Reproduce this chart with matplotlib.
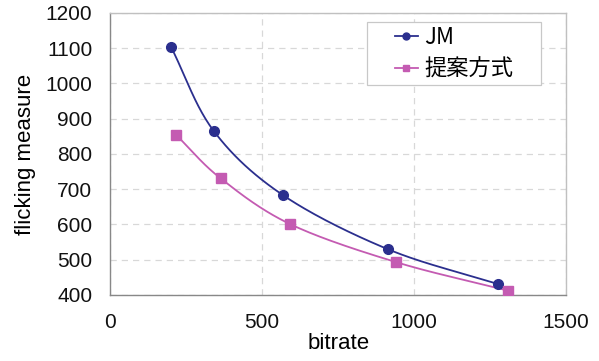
import numpy as np
import matplotlib
matplotlib.use("Agg")
import matplotlib.pyplot as plt
from matplotlib.patches import Rectangle

plt.rcParams['font.family'] = ['Liberation Sans', 'Noto Sans CJK JP', 'DejaVu Sans']

series_names = ["JM", "提案方式"]
jm_x = [200, 340, 567, 913, 1275]
jm_y = [1104, 866, 684, 530, 431]
prop_x = [218, 363, 592, 941, 1310]
prop_y = [853, 731, 601, 493, 412]
x_ticks = [0, 500, 1000, 1500]
y_ticks = [400, 500, 600, 700, 800, 900, 1000, 1100, 1200]


def smooth(xs, ys, n=40):
    # Catmull-Rom style smoothing (like spreadsheet smoothed lines)
    xs = np.asarray(xs, float)
    ys = np.asarray(ys, float)
    px = np.concatenate([[2 * xs[0] - xs[1]], xs, [2 * xs[-1] - xs[-2]]])
    py = np.concatenate([[2 * ys[0] - ys[1]], ys, [2 * ys[-1] - ys[-2]]])
    ox, oy = [], []
    t = np.linspace(0, 1, n)
    for i in range(1, len(px) - 2):
        p0, p1, p2, p3 = (np.array([px[j], py[j]]) for j in (i - 1, i, i + 1, i + 2))
        c1 = p1 + (p2 - p0) / 6
        c2 = p2 - (p3 - p1) / 6
        b = ((1 - t) ** 3)[:, None] * p1 + (3 * (1 - t) ** 2 * t)[:, None] * c1 \
            + (3 * (1 - t) * t ** 2)[:, None] * c2 + (t ** 3)[:, None] * p2
        ox.extend(b[:, 0]); oy.extend(b[:, 1])
    return ox, oy


fig = plt.figure(figsize=(5.99, 3.61), dpi=100)
ax = fig.add_axes([0.184, 0.183, 0.761, 0.781])

c_jm = '#2b2f8e'
c_pr = '#c45bb2'

sx, sy = smooth(jm_x, jm_y)
ax.plot(sx, sy, color=c_jm, lw=1.3, zorder=3)
ax.plot(jm_x, jm_y, 'o', color=c_jm, ms=7, zorder=4)
sx, sy = smooth(prop_x, prop_y)
ax.plot(sx, sy, color=c_pr, lw=1.3, zorder=3)
ax.plot(prop_x, prop_y, 's', color=c_pr, ms=7, zorder=4)

# legend frame
x0, x1, y0, y1 = 0.5636, 0.945, 0.745, 0.968
ax.add_patch(Rectangle((x0, y0), x1 - x0, y1 - y0, transform=ax.transAxes,
                       facecolor='white', edgecolor='#c8c8c8', lw=0.9, zorder=5))

h1, = ax.plot([], [], '-o', color=c_jm, lw=1.3, ms=5)
h2, = ax.plot([], [], '-s', color=c_pr, lw=1.3, ms=5)
leg = ax.legend([h1, h2], series_names, loc='center',
                bbox_to_anchor=((x0 + x1) / 2, (y0 + y1) / 2), frameon=False,
                handlelength=1.05, handletextpad=0.3, borderpad=0, borderaxespad=0,
                labelspacing=0.42,
                prop={'family': ['Noto Sans CJK JP'], 'size': 16})
leg.set_zorder(6)

ax.set_xlim(0, 1500)
ax.set_ylim(400, 1200)
ax.set_xticks(x_ticks)
ax.set_yticks(y_ticks)
ax.tick_params(length=0, labelsize=15, colors='#111111')
ax.tick_params(axis='y', pad=13)
ax.tick_params(axis='x', pad=13)
ax.grid(True, color='#d8d8d8', linestyle=(0, (5, 4)), lw=0.9)
ax.set_axisbelow(True)
for side in ['top', 'right']:
    ax.spines[side].set_color('#c0c0c0')
for side in ['left', 'bottom']:
    ax.spines[side].set_color('#888888')
for s in ax.spines.values():
    s.set_linewidth(1.0)

ax.set_xlabel('bitrate', fontsize=16, labelpad=1)
ax.set_ylabel('flicking measure', fontsize=16, labelpad=7)

fig.savefig('out.png', dpi=100)
